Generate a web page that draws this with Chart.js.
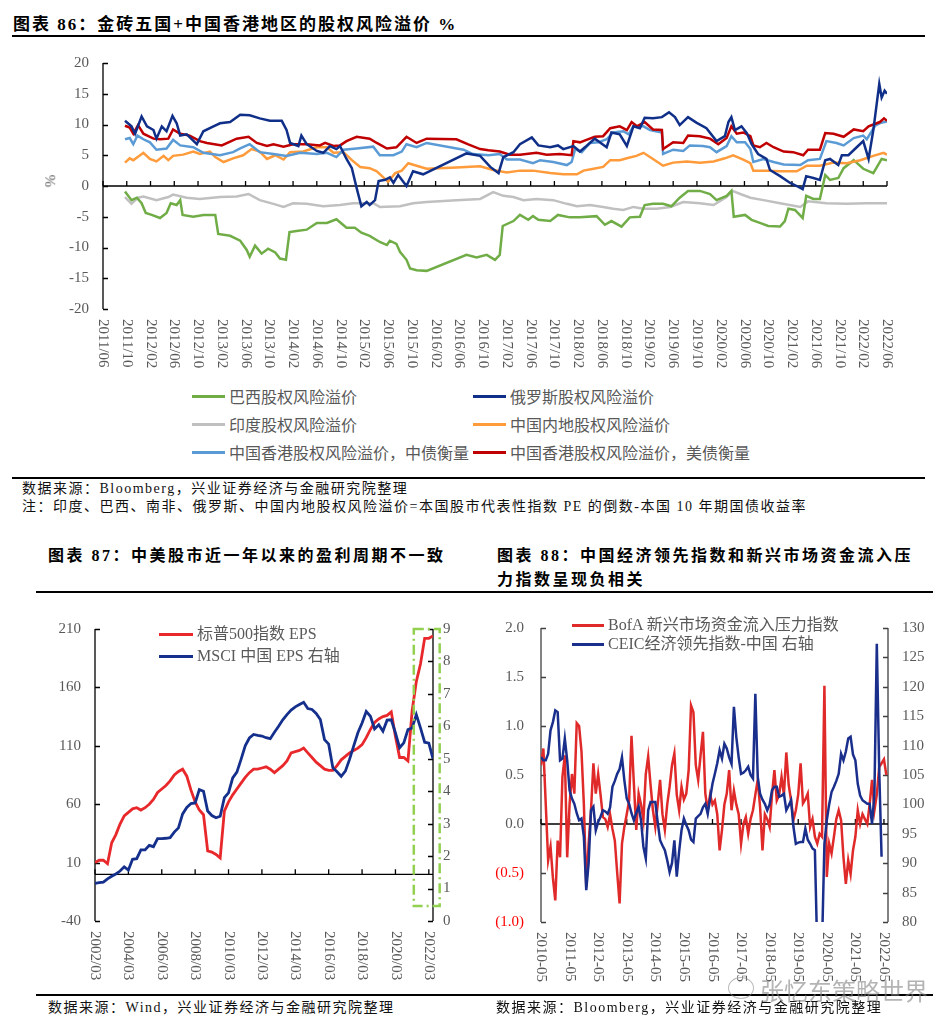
<!DOCTYPE html>
<html>
<head>
<meta charset="utf-8">
<script src="https://cdn.jsdelivr.net/npm/chart.js@4.4.0/dist/chart.umd.min.js"></script>
<style>
body{margin:0;width:950px;height:1031px;position:relative;background:#fff;overflow:hidden;font-family:"Liberation Serif","Noto Sans CJK SC",serif}
.t{position:absolute;white-space:nowrap;line-height:22px}
.title{font-weight:bold;font-size:17px;letter-spacing:2px;color:#000}
.title2{font-weight:bold;font-size:16px;letter-spacing:2.5px;color:#000}
.src{font-size:14px;letter-spacing:1.5px;color:#111;line-height:18px}
.leg{font-size:16px;color:#595959;line-height:20px}
.sans{font-family:"Noto Sans CJK SC",sans-serif}
.rule{position:absolute;height:1.5px;background:#000}
.sw{position:absolute;height:3px}
canvas{position:absolute}
</style>
</head>
<body>
<div class="t title" style="left:13px;top:14px">图表 86：金砖五国+中国香港地区的股权风险溢价 %</div>
<div class="rule" style="left:12px;top:35px;width:913px"></div>
<canvas id="c1" width="910" height="340" style="left:0;top:40px"></canvas>
<div class="t" style="left:44px;top:170px;font-size:15px;color:#595959;transform:rotate(-90deg)">%</div>
<div id="leg1"></div>
<div class="rule" style="left:12px;top:477px;width:913px"></div>
<div class="t src" style="left:22px;top:480px">数据来源：Bloomberg，兴业证券经济与金融研究院整理</div>
<div class="t src" style="left:22px;top:498px">注：印度、巴西、南非、俄罗斯、中国内地股权风险溢价=本国股市代表性指数 PE 的倒数-本国 10 年期国债收益率</div>

<div class="t title2" style="left:48px;top:545px">图表 87：中美股市近一年以来的盈利周期不一致</div>
<div class="t title2" style="left:497px;top:545px">图表 88：中国经济领先指数和新兴市场资金流入压</div>
<div class="t title2" style="left:497px;top:569px">力指数呈现负相关</div>
<div class="rule" style="left:36px;top:591px;width:897px"></div>

<canvas id="c2" width="475" height="390" style="left:0;top:600px"></canvas>
<canvas id="c3" width="475" height="390" style="left:475px;top:600px"></canvas>
<div id="leg2"></div>

<div class="rule" style="left:36px;top:994px;width:897px"></div>
<div class="t src" style="left:48px;top:999px">数据来源：Wind，兴业证券经济与金融研究院整理</div>
<div class="t src" style="left:496px;top:999px">数据来源：Bloomberg，兴业证券经济与金融研究院整理</div>
<div style="position:absolute;left:728px;top:977px;width:24px;height:20px;border:1.5px solid rgba(140,140,140,0.6);border-radius:50%"></div>
<div class="t sans" style="left:760px;top:975px;font-size:24px;line-height:30px;color:rgba(130,130,130,0.6)">张忆东策略世界</div>

<script>
// ---------- 图表86：月份序号(自2011/06起) 与 溢价值 ----------
const monthTicks = ['2011/06','2011/10','2012/02','2012/06','2012/10','2013/02','2013/06','2013/10','2014/02','2014/06','2014/10','2015/02','2015/06','2015/10','2016/02','2016/06','2016/10','2017/02','2017/06','2017/10','2018/02','2018/06','2018/10','2019/02','2019/06','2019/10','2020/02','2020/06','2020/10','2021/02','2021/06','2021/10','2022/02','2022/06'];

const brazil = [[3.7,-0.9],[4.8,-2.3],[5.7,-1.9],[6.5,-2.8],[7.2,-4.4],[8.2,-4.7],[9.6,-5.2],[10.7,-4.4],[11.4,-2.8],[12.4,-3.1],[13.0,-2.3],[13.4,-4.7],[15.2,-5.0],[16.9,-4.7],[18.9,-4.7],[19.4,-7.8],[21.4,-8.1],[23.1,-8.9],[24.2,-10.4],[24.7,-11.5],[25.6,-9.7],[26.7,-11.0],[27.8,-10.2],[29.0,-10.8],[29.8,-11.8],[30.8,-12.0],[31.4,-7.5],[32.6,-7.3],[34.3,-7.1],[36.0,-6.0],[37.7,-6.0],[39.3,-5.4],[41.0,-6.8],[42.4,-6.8],[43.5,-7.6],[44.9,-8.1],[46.6,-9.1],[47.8,-9.6],[48.3,-8.9],[49.4,-9.4],[50.0,-10.7],[51.1,-12.0],[51.7,-13.4],[52.8,-13.7],[54.5,-13.8],[61.2,-11.2],[62.9,-11.6],[64.6,-11.2],[66.0,-12.0],[66.8,-11.2],[67.3,-6.5],[69.1,-5.7],[70.2,-4.7],[71.6,-5.5],[72.4,-4.9],[73.3,-5.5],[75.3,-5.7],[76.6,-4.7],[78.6,-5.1],[80.3,-5.1],[83.1,-4.9],[84.5,-6.3],[85.6,-5.7],[87.3,-6.6],[88.7,-5.1],[90.4,-5.0],[91.2,-3.1],[92.6,-2.9],[94.3,-2.9],[95.7,-3.3],[97.1,-1.9],[98.5,-0.8],[100.5,-0.8],[102.2,-1.3],[103.3,-2.3],[105.0,-1.6],[105.8,-0.8],[106.2,-5.0],[108.1,-4.7],[109.2,-5.5],[110.6,-6.0],[112.0,-6.5],[114.0,-6.6],[114.8,-5.7],[115.4,-3.7],[116.5,-3.9],[117.8,-5.2],[118.4,-1.6],[119.6,-2.1],[120.7,-2.1],[121.6,1.8],[122.4,1.0],[123.8,1.3],[124.7,2.9],[126.4,4.2],[128.0,2.8],[129.7,2.1],[131.1,4.4],[132.0,4.2]];
const russia = [[3.7,10.6],[4.8,9.7],[5.4,8.5],[6.5,11.3],[7.4,9.7],[8.5,9.1],[9.0,7.7],[9.9,9.7],[10.7,8.9],[11.7,11.4],[12.4,10.2],[13.0,8.2],[14.1,8.4],[15.8,6.8],[16.9,8.9],[18.6,9.7],[19.7,10.2],[21.4,10.4],[23.1,11.6],[24.7,11.5],[26.4,11.0],[28.1,10.6],[30.1,10.6],[30.9,9.1],[31.5,7.0],[32.9,6.5],[33.4,8.2],[34.3,6.8],[36.0,5.7],[37.1,5.4],[38.2,6.5],[39.3,6.0],[39.9,6.5],[41.0,4.4],[41.9,2.9],[42.7,-0.3],[43.5,-3.3],[44.4,-2.6],[44.9,-3.1],[45.8,-2.3],[46.4,0.8],[47.5,1.0],[48.3,1.4],[48.9,0.5],[49.7,1.8],[51.1,0.0],[52.2,2.4],[53.9,1.9],[61.2,5.3],[63.5,4.9],[65.2,3.1],[66.6,2.1],[67.4,4.7],[69.1,5.5],[70.2,6.8],[72.2,7.9],[73.3,6.6],[75.3,6.3],[76.6,6.6],[77.5,6.0],[79.2,6.5],[80.3,5.6],[81.4,6.5],[82.8,7.7],[84.8,6.3],[85.6,8.7],[87.0,8.4],[88.2,6.5],[89.3,9.7],[90.4,9.4],[91.2,11.1],[92.6,11.0],[94.1,11.2],[95.3,12.0],[96.3,11.2],[97.1,9.9],[98.5,11.2],[99.9,10.3],[101.6,9.4],[103.3,7.3],[104.7,8.1],[105.3,10.4],[105.8,11.2],[106.4,9.1],[107.5,9.7],[108.4,8.6],[109.2,6.8],[110.3,5.2],[111.7,4.4],[112.3,2.6],[114.0,1.6],[115.7,0.5],[116.8,0.0],[117.8,-0.5],[118.4,1.6],[119.6,1.3],[120.7,1.0],[121.6,4.2],[122.4,4.4],[123.8,3.4],[124.4,5.0],[125.5,5.0],[126.9,6.3],[128.0,7.3],[128.9,4.4],[129.7,9.1],[130.7,16.6],[131.1,14.4],[131.6,15.5],[132.0,15.0]];
const india = [[3.7,-1.8],[4.8,-2.9],[5.9,-1.9],[6.8,-1.7],[9.0,-2.3],[11.0,-1.8],[11.8,-1.4],[14.1,-1.9],[16.3,-2.1],[19.7,-1.8],[22.5,-1.7],[24.5,-1.3],[26.4,-2.3],[28.7,-2.9],[30.4,-3.4],[32.0,-2.8],[34.3,-2.9],[37.1,-3.3],[39.9,-3.1],[42.1,-2.8],[45.5,-2.8],[46.6,-3.4],[50.0,-3.3],[52.2,-2.8],[54.5,-2.6],[59.5,-2.3],[63.5,-2.1],[65.7,-1.0],[67.4,-1.6],[69.1,-1.8],[70.8,-2.3],[73.0,-2.1],[75.8,-2.3],[78.1,-2.9],[79.8,-3.3],[82.0,-3.1],[84.2,-3.4],[85.9,-3.7],[87.6,-3.9],[89.3,-3.4],[91.0,-3.7],[93.2,-3.7],[95.5,-3.4],[97.7,-2.6],[100.5,-2.8],[102.8,-3.1],[105.0,-1.8],[106.0,-0.8],[107.3,-1.3],[109.0,-1.9],[111.2,-2.3],[114.0,-2.8],[117.4,-3.4],[118.7,-2.5],[121.8,-2.8],[125.2,-2.9],[128.6,-2.8],[132.0,-2.8]];
const mainland = [[3.7,3.8],[4.5,4.5],[5.1,4.2],[6.8,5.4],[7.9,4.4],[9.0,4.0],[10.2,4.9],[11.0,4.2],[11.8,4.9],[13.5,5.1],[15.2,5.6],[16.3,5.2],[18.0,5.6],[18.9,4.7],[20.3,3.9],[21.9,4.5],[23.6,5.0],[25.0,6.0],[26.4,5.6],[27.6,4.4],[29.0,5.0],[30.4,4.3],[31.5,5.5],[33.7,5.6],[36.0,6.3],[37.7,6.3],[38.8,5.4],[40.5,5.5],[41.9,4.2],[43.3,3.1],[44.9,2.9],[46.1,2.4],[47.2,1.4],[48.0,0.7],[49.2,2.1],[50.3,2.5],[51.4,3.7],[52.8,3.3],[54.5,2.8],[59.5,3.0],[63.5,3.2],[65.7,2.6],[68.0,2.2],[70.2,2.5],[72.4,2.5],[75.3,2.1],[77.5,1.9],[79.8,1.9],[80.9,2.5],[82.6,2.8],[84.2,3.1],[85.4,4.2],[87.0,4.2],[88.2,4.5],[89.8,4.9],[91.0,5.4],[92.6,4.4],[94.3,3.3],[96.0,3.8],[98.3,4.0],[100.5,3.8],[102.8,4.0],[104.7,4.5],[106.1,5.0],[107.8,4.3],[109.0,3.7],[109.5,2.5],[111.7,2.5],[114.0,2.4],[116.8,2.4],[118.5,3.3],[120.7,3.3],[123.0,3.8],[125.2,3.7],[127.5,4.2],[129.7,4.9],[131.4,5.4],[132.0,5.1]];
const hkCnBond = [[3.7,7.6],[4.5,7.8],[5.1,6.8],[5.8,8.2],[6.8,7.6],[7.9,7.1],[9.0,5.9],[10.7,6.1],[11.8,7.5],[13.0,6.6],[15.2,6.3],[16.9,5.4],[19.7,5.0],[21.9,5.5],[23.1,6.1],[24.7,6.8],[26.4,5.5],[28.7,5.2],[30.9,4.9],[33.2,5.4],[36.0,5.2],[37.7,5.4],[39.3,4.7],[40.5,5.9],[42.7,6.1],[45.5,6.4],[46.6,5.0],[48.9,5.0],[50.3,5.6],[51.1,6.8],[52.8,6.3],[54.5,7.0],[60.7,5.9],[62.3,5.2],[64.9,5.0],[66.8,5.2],[68.0,4.3],[70.2,4.3],[72.4,3.7],[73.6,4.2],[75.8,3.9],[78.1,3.4],[78.9,3.9],[79.5,6.0],[80.6,5.5],[82.0,7.0],[83.4,7.1],[84.8,7.6],[85.9,8.7],[87.6,8.9],[88.5,8.4],[89.3,9.7],[91.0,9.7],[92.1,9.1],[94.1,8.7],[94.3,5.2],[96.0,5.9],[97.7,5.7],[98.8,6.6],[101.0,6.5],[102.2,6.3],[103.3,5.5],[105.0,6.5],[105.8,8.1],[106.7,7.1],[108.1,7.1],[109.0,6.0],[109.5,3.9],[111.2,4.4],[112.9,3.9],[114.6,3.5],[117.4,3.4],[118.7,4.2],[120.7,4.4],[121.8,7.3],[123.5,7.0],[124.7,6.6],[126.4,7.8],[128.0,8.2],[128.6,7.6],[130.0,9.8],[131.0,10.3],[132.0,10.5]];
const hkUsBond = [[3.7,9.8],[4.5,9.5],[5.1,8.5],[5.9,9.9],[6.8,8.5],[8.5,7.7],[9.6,7.6],[11.0,7.7],[11.8,9.2],[13.0,8.5],[14.6,8.2],[16.3,7.3],[17.5,7.0],[20.0,6.6],[22.5,7.7],[24.5,8.0],[25.9,7.0],[27.6,6.5],[28.7,6.8],[30.4,6.4],[32.0,6.8],[34.3,6.8],[36.5,6.6],[37.4,7.0],[38.8,6.5],[39.9,6.6],[41.0,7.3],[42.7,8.0],[44.9,7.7],[46.1,7.0],[47.8,6.1],[49.4,6.3],[51.1,8.0],[52.8,7.0],[54.5,7.7],[59.5,7.6],[61.4,6.8],[63.5,6.0],[64.9,5.8],[66.8,5.6],[68.5,5.1],[70.2,5.1],[73.0,5.4],[74.7,5.1],[76.9,5.2],[78.9,5.0],[79.2,7.3],[80.3,7.1],[81.4,7.5],[82.8,8.0],[84.2,8.1],[85.4,9.4],[87.0,9.7],[88.2,9.1],[89.0,10.4],[89.9,9.7],[91.2,10.4],[92.6,9.2],[94.1,9.1],[94.3,6.0],[96.0,7.1],[97.7,7.0],[98.5,8.2],[100.5,8.1],[102.2,7.7],[103.6,6.8],[105.0,7.8],[105.8,9.7],[106.7,8.5],[107.8,8.7],[109.0,8.1],[109.5,6.6],[110.6,6.3],[111.7,7.0],[112.9,6.3],[114.6,5.6],[116.2,5.5],[117.9,5.0],[118.7,5.9],[120.7,5.9],[121.6,8.6],[123.0,8.5],[124.7,8.0],[126.4,9.2],[128.0,8.9],[128.9,9.7],[130.8,10.4],[131.5,11.0],[132.0,10.6]];

const names86 = ['巴西股权风险溢价','俄罗斯股权风险溢价','印度股权风险溢价','中国内地股权风险溢价','中国香港股权风险溢价，中债衡量','中国香港股权风险溢价，美债衡量'];
const colors86 = ['#70AD47','#102F88','#C0C0C0','#FF9B3A','#5B9BD5','#C00000'];
const series86 = [brazil, russia, india, mainland, hkCnBond, hkUsBond];

// ---------- 图表87：季度序号(自2002/03起) ----------
const quarterTicks = ['2002/03','2004/03','2006/03','2008/03','2010/03','2012/03','2014/03','2016/03','2018/03','2020/03','2022/03'];
const spxEps = [10,12,12,9,27,34,43,50,53,56,57,55,57,60,64,70,73,76,80,85,88,90,84,72,62,55,51,20,19,17,14,54,62,68,73,78,83,87,90,90,91,92,90,87,90,93,97,104,105,106,108,104,100,96,93,90,89,89,93,98,101,104,106,108,111,117,124,130,133,135,136,139,118,100,100,97,140,165,180,202,202,204];
const msciEps = [1.16,1.18,1.2,1.3,1.38,1.45,1.54,1.67,1.57,1.9,1.92,2.19,2.19,2.33,2.29,2.54,2.54,2.55,2.57,2.74,2.87,3.3,3.5,3.62,3.64,4.05,4.0,3.39,3.25,3.18,3.23,3.8,3.95,4.41,4.59,4.98,5.4,5.64,5.75,5.72,5.7,5.65,5.62,5.82,6.0,6.2,6.36,6.5,6.6,6.67,6.74,6.55,6.52,6.4,6.21,5.59,5.45,4.72,4.6,4.46,4.62,4.98,5.4,5.8,6.1,6.46,6.31,5.92,6.05,5.85,6.19,6.2,5.8,5.34,5.49,5.9,5.95,6.36,5.95,5.51,5.48,5.0];

// ---------- 图表88：月度序号(自2010-05起) ----------
const yearTicks = ['2010-05','2011-05','2012-05','2013-05','2014-05','2015-05','2016-05','2017-05','2018-05','2019-05','2020-05','2021-05','2022-05'];
const bofaFlow = [0.6,0.77,0.2,-0.37,-0.23,-0.55,-0.78,-0.17,-0.34,0.48,0.7,-0.34,0.2,0.51,0.31,1.03,1.0,0.74,0.2,-0.64,-0.2,0.14,0.62,0.31,0.51,0.3,0.07,0.05,-0.03,0.1,-0.05,-0.17,-0.5,-0.81,-0.2,-0.03,0.1,0.24,0.9,0.41,-0.06,0.31,0.2,0.04,0.51,0.69,0.4,0.14,-0.03,0.2,0.45,0.1,-0.06,0.2,0.38,0.6,0.72,0.3,0.14,0.38,0.25,0.31,0.55,1.21,1.14,0.6,0.45,0.7,0.94,0.31,0.14,0.3,0.2,0.24,0.1,-0.27,-0.06,0.2,0.31,0.55,0.14,0.34,0.2,0.1,-0.2,0.0,0.07,-0.1,0.05,0.14,0.3,0.45,0.17,-0.27,0.1,0.05,-0.03,0.3,0.55,0.24,0.3,0.48,0.3,0.73,0.4,0.24,0.04,0.14,0.3,0.62,0.21,0.25,0.31,-0.03,0.05,-0.13,-0.2,-0.1,-0.13,1.41,-0.54,-0.2,-0.3,-0.13,0.05,0.14,0.04,-0.34,-0.61,-0.37,-0.51,-0.27,-0.13,0.14,0.0,0.1,0.05,0.0,0.2,0.45,0.14,0.3,0.58,0.62,0.66,0.5];
const ceicLead = [108,107.5,107.5,108.6,112.6,114,116,115.7,107.5,107.8,111.2,107.5,102.4,101,100.1,98.5,97.3,97.6,94.5,85.4,90,99,99.6,95.6,97,97.9,99,98.8,98.4,99.5,103,104,105.2,106,108,104.1,101,100.1,98.5,97.3,98.5,99.6,97.3,92.8,90.8,99,100.4,100.4,100.4,97,93.9,93,92.2,90.5,88.5,90,93.9,87.7,92,95.6,97.6,96.5,95.6,94,93.6,97.6,98,98.4,99.5,100.1,98.4,101,103.5,105.2,107,109.2,107.8,110.3,109.5,108,106.9,116.6,111.5,108,105.2,105.4,105.8,106.4,105,104.4,118.8,104.7,101.8,100.8,100.1,99,100,102.4,103,103,101.3,101.5,101.8,99,99.8,100.7,96.2,93.3,93.5,93.6,93.6,95.9,94,93.3,92.5,92.2,75,72,76,93.3,97.3,100,102.1,103,104,105.2,108.6,107.5,109,111.2,111.5,108.5,107.5,103.5,101.5,100.7,100.4,100.1,100.1,96.7,101.8,127.3,106,91.1];

const GRAY = '#595959';
const tickFont = { family: 'Liberation Serif', size: 15 };

// axes lines, inward ticks, zero line and rotated date labels
const decor = {
  id: 'decor',
  beforeDatasetsDraw(chart, args, o) {
    const ctx = chart.ctx, a = chart.chartArea, xs = chart.scales.x;
    const baseY = chart.scales[o.baseAxis].getPixelForValue(0);
    ctx.save();
    ctx.lineWidth = 1.3;
    ctx.strokeStyle = o.axisColor || '#000';
    ctx.beginPath();
    o.yAxes.forEach(id => {
      const s = chart.scales[id];
      const x = s.position === 'left' ? a.left : a.right;
      const dir = s.position === 'left' ? 1 : -1;
      ctx.moveTo(x, a.top); ctx.lineTo(x, a.bottom);
      s.ticks.forEach(t => {
        const y = Math.round(s.getPixelForValue(t.value)) + 0.5;
        ctx.moveTo(x, y); ctx.lineTo(x + dir * 5, y);
      });
    });
    ctx.stroke();
    ctx.strokeStyle = '#000';
    ctx.beginPath();
    ctx.moveTo(a.left, baseY); ctx.lineTo(a.right, baseY);
    xs.ticks.forEach(t => {
      const x = xs.getPixelForValue(t.value);
      ctx.moveTo(x, baseY); ctx.lineTo(x, baseY - 5);
    });
    ctx.stroke();
    ctx.fillStyle = GRAY;
    ctx.font = '15px "Liberation Serif"';
    ctx.textAlign = 'left';
    ctx.textBaseline = 'middle';
    xs.ticks.forEach((t, i) => {
      ctx.save();
      ctx.translate(xs.getPixelForValue(t.value), a.bottom + 10);
      ctx.rotate(Math.PI / 2);
      ctx.fillText(o.labels[i], 0, 0);
      ctx.restore();
    });
    ctx.restore();
  },
  afterDatasetsDraw(chart, args, o) {
    if (!o.box) return;
    const b = o.box, ctx = chart.ctx, xs = chart.scales.x, ys = chart.scales[b.axis];
    const x0 = xs.getPixelForValue(b.x0), x1 = xs.getPixelForValue(b.x1);
    const y0 = ys.getPixelForValue(b.y0), y1 = ys.getPixelForValue(b.y1);
    ctx.save();
    ctx.strokeStyle = '#92D050';
    ctx.lineWidth = 2.5;
    ctx.setLineDash([10, 4, 2, 4]);
    ctx.strokeRect(x0, y0, x1 - x0, y1 - y0);
    ctx.restore();
  }
};

function xAxis(min, max, step, labels, height) {
  return {
    type: 'linear', min, max,
    grid: { display: false }, border: { display: false }, ticks: { display: false },
    afterBuildTicks: s => { s.ticks = labels.map((l, i) => ({ value: min + i * step })); },
    afterFit: s => { s.height = height; }
  };
}
function yAxis(position, min, max, step, width, pad, extra) {
  return Object.assign({
    position, min, max,
    grid: { display: false, drawTicks: false }, border: { display: false },
    ticks: Object.assign({ stepSize: step, padding: pad, color: GRAY, font: tickFont }, extra || {}),
    afterFit: s => { s.width = width; }
  });
}
function makeChart(id, datasets, scales, padding, decorOpts) {
  return new Chart(document.getElementById(id), {
    type: 'line',
    data: { datasets },
    options: {
      responsive: false, animation: false, events: [],
      layout: { padding },
      elements: { point: { radius: 0 }, line: { borderWidth: 2.5, tension: 0 } },
      plugins: { legend: { display: false }, tooltip: { enabled: false }, decor: decorOpts },
      scales
    },
    plugins: [decor]
  });
}
const pts = arr => arr.map(p => ({ x: p[0], y: p[1] }));
const idx = arr => arr.map((v, i) => ({ x: i, y: v }));

// 图表86
const drawOrder86 = [2, 0, 3, 4, 5, 1];
makeChart('c1',
  drawOrder86.map(k => ({ data: pts(series86[k]), borderColor: colors86[k], order: drawOrder86.length - drawOrder86.indexOf(k) })),
  { x: xAxis(0, 132, 4, monthTicks, 71), y: yAxis('left', -20, 20, 5, 103, 14) },
  { top: 14, right: 23, left: 0, bottom: 0 },
  { baseAxis: 'y', yAxes: ['y'], labels: monthTicks });

// 图表87
makeChart('c2', [
  { data: idx(msciEps), borderColor: '#14308C', yAxisID: 'y2', borderWidth: 2.8 },
  { data: idx(spxEps), borderColor: '#E8282B', yAxisID: 'y', borderWidth: 2.8 }
], {
  x: xAxis(0, 81, 8, quarterTicks, 69),
  y: yAxis('left', -40, 210, 50, 95, 14),
  y2: yAxis('right', 0, 9, 1, 42, 10)
}, { top: 29, right: 0, left: 0, bottom: 0 },
{ baseAxis: 'y', yAxes: ['y', 'y2'], labels: quarterTicks, box: { axis: 'y', x0: 76.4, x1: 82.6, y0: 210, y1: -27.2 } });

// 图表88
makeChart('c3', [
  { data: idx(ceicLead), borderColor: '#1A2E8C', yAxisID: 'y2' },
  { data: idx(bofaFlow), borderColor: '#E02A2A', yAxisID: 'y' }
], {
  x: xAxis(0, 145.7, 12, yearTicks, 68),
  y: yAxis('left', -1, 2, 0.5, 66, 17, {
    color: c => (c.tick && c.tick.value < 0 ? '#FF0000' : GRAY),
    callback: v => (v < 0 ? '(' + Math.abs(v).toFixed(1) + ')' : v.toFixed(1))
  }),
  y2: yAxis('right', 80, 130, 5, 62, 14)
}, { top: 28, right: 0, left: 0, bottom: 0 },
{ baseAxis: 'y', yAxes: ['y', 'y2'], labels: yearTicks, axisColor: '#404040' });

// legends
function legendItem(host, name, color, sx, tx, cy, cls) {
  const sw = document.createElement('div');
  sw.className = 'sw';
  sw.style.cssText = 'left:' + sx + 'px;top:' + (cy - 1.5) + 'px;width:' + (tx - sx - 4) + 'px;background:' + color;
  const tx0 = document.createElement('div');
  tx0.className = 't leg ' + (cls || '');
  tx0.style.cssText = 'left:' + tx + 'px;top:' + (cy - 10) + 'px';
  tx0.textContent = name;
  host.appendChild(sw); host.appendChild(tx0);
}
const leg1 = document.getElementById('leg1');
names86.forEach((n, k) => {
  const col = k % 2, row = Math.floor(k / 2);
  legendItem(leg1, n, colors86[k], col ? 473 : 192, col ? 510 : 229, 396 + row * 28, 'sans');
});
const leg2 = document.getElementById('leg2');
legendItem(leg2, '标普500指数 EPS', '#E8282B', 159, 197, 634);
legendItem(leg2, 'MSCI 中国 EPS 右轴', '#14308C', 159, 197, 656);
legendItem(leg2, 'BofA 新兴市场资金流入压力指数', '#E02A2A', 572, 608, 625);
legendItem(leg2, 'CEIC经济领先指数-中国 右轴', '#1A2E8C', 572, 608, 644);
</script>
</body>
</html>
